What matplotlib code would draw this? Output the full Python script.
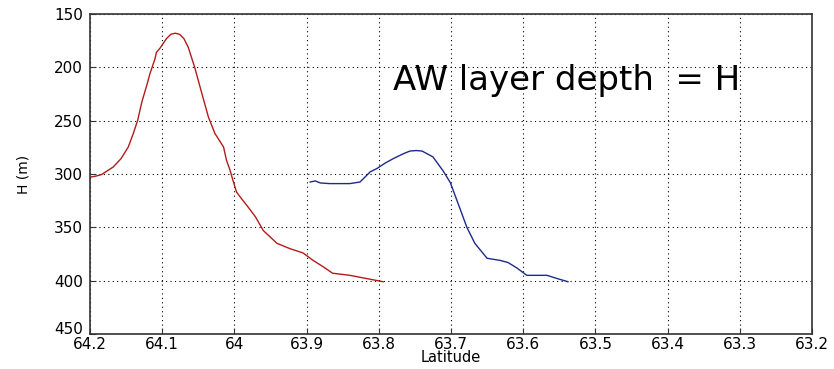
import matplotlib
matplotlib.use("Agg")
import matplotlib.pyplot as plt
from matplotlib.transforms import ScaledTranslation

# Layer depth along the section (latitude in degrees N, depth in m)
red_lat = [64.200, 64.192, 64.184, 64.168, 64.157, 64.147, 64.140, 64.134, 64.128,
           64.121, 64.117, 64.110, 64.108, 64.103, 64.094, 64.088, 64.082, 64.076,
           64.070, 64.064, 64.055, 64.045, 64.036, 64.027, 64.015, 64.011, 64.006,
           64.002, 63.997, 63.992, 63.981, 63.971, 63.960, 63.941, 63.923, 63.905,
           63.891, 63.877, 63.864, 63.840, 63.817, 63.794]
red_h = [303, 302, 300.5, 293.5, 285.6, 274.7, 262, 249.7, 232,
         216, 206, 192, 186, 182, 173, 169, 168, 169,
         173, 181, 200, 224.7, 246.6, 262, 274.7, 287, 296.5,
         306, 317, 321.5, 331, 340, 353, 365, 370, 374,
         381, 387, 393, 395, 398, 401]

blue_lat = [63.895, 63.888, 63.881, 63.868, 63.840, 63.826, 63.819, 63.812, 63.803,
            63.791, 63.780, 63.766, 63.757, 63.748, 63.740, 63.725, 63.711, 63.701,
            63.690, 63.678, 63.667, 63.650, 63.632, 63.621, 63.609, 63.595, 63.567,
            63.553, 63.538]
blue_h = [307.5, 306.5, 308.4, 309, 309, 307.5, 302.8, 298, 295,
          289.7, 285.6, 281, 278.5, 278, 278.5, 284, 297, 308,
          328, 350, 365, 379, 381, 383, 388, 395, 395,
          398, 401]

x_ticks = [64.2, 64.1, 64.0, 63.9, 63.8, 63.7, 63.6, 63.5, 63.4, 63.3, 63.2]
x_tick_labels = ["64.2", "64.1", "64", "63.9", "63.8", "63.7", "63.6",
                 "63.5", "63.4", "63.3", "63.2"]
y_ticks = [150, 200, 250, 300, 350, 400, 450]

fig = plt.figure(figsize=(8.34, 3.69), dpi=100)
ax = fig.add_axes([90 / 834, 1 - 334 / 369, 722 / 834, 320 / 369])

ax.plot(red_lat, red_h, color="#b51a1a", lw=1.0)
ax.plot(blue_lat, blue_h, color="#1c2a8c", lw=1.0)

ax.set_xlim(64.2, 63.2)
ax.set_ylim(450, 150)
ax.set_xticks(x_ticks)
ax.set_xticklabels(x_tick_labels)
ax.set_yticks(y_ticks)

ax.grid(True, color="black", linestyle=(0, (1, 3)), linewidth=0.8)
ax.tick_params(direction="in", length=4, labelsize=11, color="#333333")
ax.tick_params(axis="x", pad=2)
ax.tick_params(axis="y", pad=5)
for s in ax.spines.values():
    s.set_color("#333333")
    s.set_linewidth(1.2)

# lift the bottom y label a little so it clears the first latitude label
bottom_label = ax.get_yticklabels()[-1]
bottom_label.set_transform(bottom_label.get_transform()
                           + ScaledTranslation(0, 4 / 72, fig.dpi_scale_trans))

ax.set_xlabel("Latitude", fontsize=10.5, labelpad=-1)
ax.set_ylabel("H (m)", fontsize=10)
ax.yaxis.set_label_coords(-0.082, 0.5)

ax.text(63.78, 221.6, "AW layer depth  = H", fontsize=24.5,
        family=["Comic Sans MS", "DejaVu Sans"], ha="left", va="baseline")

fig.savefig("out.png", dpi=100)
